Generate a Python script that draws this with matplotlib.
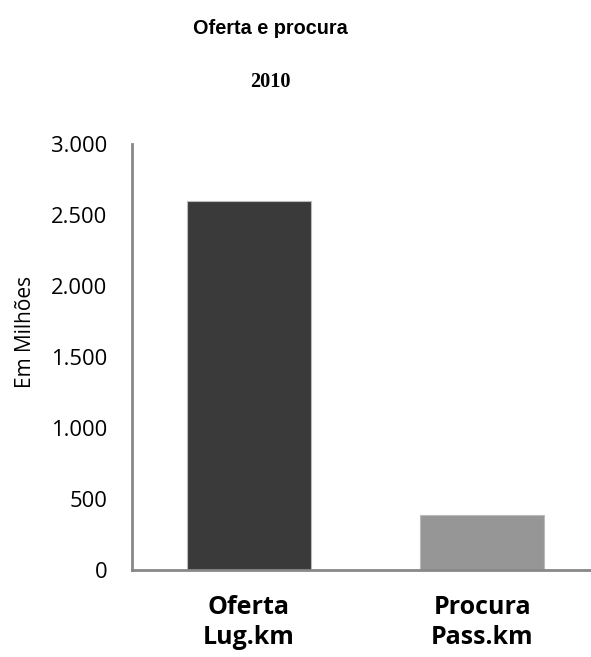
import matplotlib.pyplot as plt
from matplotlib.ticker import FuncFormatter

# dados
categorias = ["Oferta\nLug.km", "Procura\nPass.km"]
valores = [2600, 385]
cores = ["#3a3a3a", "#969696"]
yticks = [0, 500, 1000, 1500, 2000, 2500, 3000]

fig = plt.figure(figsize=(5.91, 6.57), dpi=100)
ax = fig.add_axes([132 / 591, 87 / 657, 467 / 591, 426 / 657])

x = range(len(categorias))
ax.bar(x, valores, width=0.53, color=cores, edgecolor="#bbbbbb", linewidth=0.8)

ax.set_xlim(-0.5, 1.5)
ax.set_ylim(0, 3000)
ax.set_yticks(yticks)
ax.yaxis.set_major_formatter(FuncFormatter(lambda v, p: f"{int(v):,}".replace(",", ".")))
ax.set_xticks(list(x))
ax.set_xticklabels(categorias, fontsize=18, fontweight="bold", family="Open Sans", linespacing=1.25)
ax.tick_params(axis="y", length=0, pad=18, labelsize=15.8)
ax.tick_params(axis="x", length=0, pad=18)
for lbl in ax.get_yticklabels():
    lbl.set_family("Open Sans")

for s in ["top", "right"]:
    ax.spines[s].set_visible(False)
for s in ["left", "bottom"]:
    ax.spines[s].set_color("#888888")
    ax.spines[s].set_linewidth(2)

# rótulo do eixo y
fig.text(26 / 591, 1 - 332 / 657, "Em Milhões", rotation=90, ha="center", va="center",
         fontsize=15, family="Open Sans")

fig.text(270 / 591, 1 - 28 / 657, "Oferta e procura", ha="center", va="center",
         fontsize=14.3, fontweight="bold", family="Liberation Sans")
fig.text(270 / 591, 1 - 82 / 657, "2010", ha="center", va="center",
         fontsize=14.6, fontweight="bold", family="Liberation Serif")

plt.savefig("out.png", dpi=100)
